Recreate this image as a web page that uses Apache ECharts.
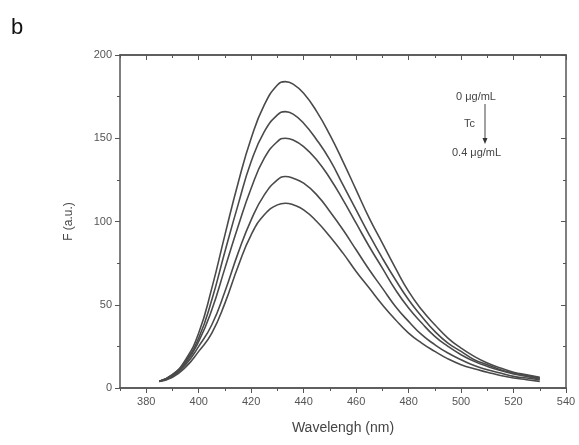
<!DOCTYPE html>
<html>
<head>
<meta charset="utf-8">
<script src="https://cdn.jsdelivr.net/npm/echarts@6/dist/echarts.min.js"></script>
<style>
  html, body { margin: 0; padding: 0; background: #fff; }
  #chart { width: 579px; height: 445px; }
</style>
</head>
<body>
<div id="chart"></div>
<script>
// wavelength (nm)
var wavelengths = [385, 390, 395, 400, 405, 410, 415, 420, 425, 430, 433, 436, 440, 445, 450, 455, 460, 465, 470, 475, 480, 485, 490, 495, 500, 505, 510, 515, 520, 525, 530];

// fluorescence, Tc 0 -> 0.4 ug/mL
var f0 = [4, 8, 17, 33, 60, 92, 123, 150, 170, 182, 184, 182.5, 177, 166, 152, 136, 119, 102, 87, 72, 58, 47, 38, 30, 24, 19, 15, 12, 9.5, 8, 6.5];
var f1 = [4, 8, 16, 30, 53, 82, 110, 136, 154, 164, 166, 164.5, 159, 149, 137, 122, 107, 92, 78, 65, 53, 43, 34, 27, 22, 17, 14, 11, 9, 7.5, 6];
var f2 = [4, 7.5, 15, 28, 47, 72, 97, 120, 138, 148, 150, 149, 145, 137, 126, 113, 99, 85, 72, 59, 48, 39, 31, 25, 20, 16, 13, 10.5, 8.5, 7, 5.5];
var f3 = [4, 7, 14, 25, 38, 58, 81, 101, 116, 125, 127, 126, 123, 116, 106, 95, 83, 71, 60, 49, 40, 32, 26, 21, 17, 13.5, 11, 9, 7, 6, 5];
var f4 = [4, 6.5, 12.5, 22, 33, 51, 73, 92, 104, 110, 111, 110, 107, 100, 91, 81, 70, 60, 50, 41, 33, 27, 22, 17.5, 14, 11.5, 9.5, 7.5, 6, 5, 4];

var allSeries = [f0, f1, f2, f3, f4];

// tick positions
var xMajor = [380, 400, 420, 440, 460, 480, 500, 520, 540];
var xMinor = [370, 390, 410, 430, 450, 470, 490, 510, 530];

var axisColor = '#555';
var textColor = '#555';
var font = 'Liberation Sans, Arial, sans-serif';

function pairs(vals) {
    return wavelengths.map(function (w, i) { return [w, vals[i]]; });
}

function xAxisDef(pos, ticks, len, inside, withLabel) {
    var ax = {
        type: 'value', min: 370, max: 540, position: pos,
        axisLine: { show: true, lineStyle: { color: axisColor, width: 1.5 } },
        axisTick: { show: true, inside: inside, length: len, customValues: ticks, lineStyle: { color: axisColor } },
        axisLabel: { show: withLabel, fontSize: 11, color: textColor, margin: 8, customValues: ticks },
        splitLine: { show: false }
    };
    return ax;
}

var bottomAxis = xAxisDef('bottom', xMajor, 5, false, true);
bottomAxis.name = 'Wavelengh (nm)';
bottomAxis.nameLocation = 'middle';
bottomAxis.nameGap = 33;
bottomAxis.nameTextStyle = { fontSize: 14, color: '#444' };

var option = {
    animation: false,
    backgroundColor: '#fff',
    textStyle: { fontFamily: font },
    grid: { left: 120, right: 13, top: 55, bottom: 57 },
    xAxis: [
        bottomAxis,
        xAxisDef('bottom', xMinor, 3, false, false),
        xAxisDef('top', xMajor, 5, true, false),
        xAxisDef('top', xMinor, 3, true, false)
    ],
    yAxis: [
        {
            type: 'value', min: 0, max: 200, interval: 50,
            name: 'F (a.u.)', nameLocation: 'middle', nameGap: 45,
            nameTextStyle: { fontSize: 12, color: '#444' },
            axisLine: { show: true, lineStyle: { color: axisColor, width: 1.5 } },
            axisTick: { show: true, length: 5, lineStyle: { color: axisColor } },
            minorTick: { show: true, splitNumber: 2, length: 3, lineStyle: { color: axisColor } },
            axisLabel: { fontSize: 11, color: textColor, margin: 8 },
            splitLine: { show: false }
        },
        {
            type: 'value', min: 0, max: 200, interval: 50, position: 'right',
            axisLine: { show: true, lineStyle: { color: axisColor, width: 1.5 } },
            axisTick: { show: true, inside: true, length: 5, lineStyle: { color: axisColor } },
            minorTick: { show: true, splitNumber: 2, length: 3, lineStyle: { color: axisColor } },
            axisLabel: { show: false },
            splitLine: { show: false }
        }
    ],
    series: allSeries.map(function (vals) {
        return {
            type: 'line',
            smooth: 0.5,
            symbol: 'none',
            lineStyle: { color: '#4a4a4a', width: 1.6 },
            data: pairs(vals)
        };
    }),
    graphic: [
        { type: 'text', left: 11, top: 17, style: { text: 'b', fontSize: 22, fill: '#111', fontFamily: font } },
        { type: 'text', left: 456, top: 91, style: { text: '0 μg/mL', fontSize: 11, fill: '#444', fontFamily: font } },
        { type: 'text', left: 464, top: 118, style: { text: 'Tc', fontSize: 11, fill: '#444', fontFamily: font } },
        { type: 'text', left: 452, top: 147, style: { text: '0.4 μg/mL', fontSize: 11, fill: '#444', fontFamily: font } },
        { type: 'line', shape: { x1: 485, y1: 104, x2: 485, y2: 141 }, style: { stroke: '#444', lineWidth: 1 } },
        { type: 'polygon', shape: { points: [[482.5, 138], [487.5, 138], [485, 144]] }, style: { fill: '#333' } }
    ]
};

var chart = document.getElementById('chart');
var chartContainer = echarts.init(chart);
chartContainer.setOption(option);
window.onresize = function () {
    chartContainer.resize();
};
</script>
</body>
</html>
